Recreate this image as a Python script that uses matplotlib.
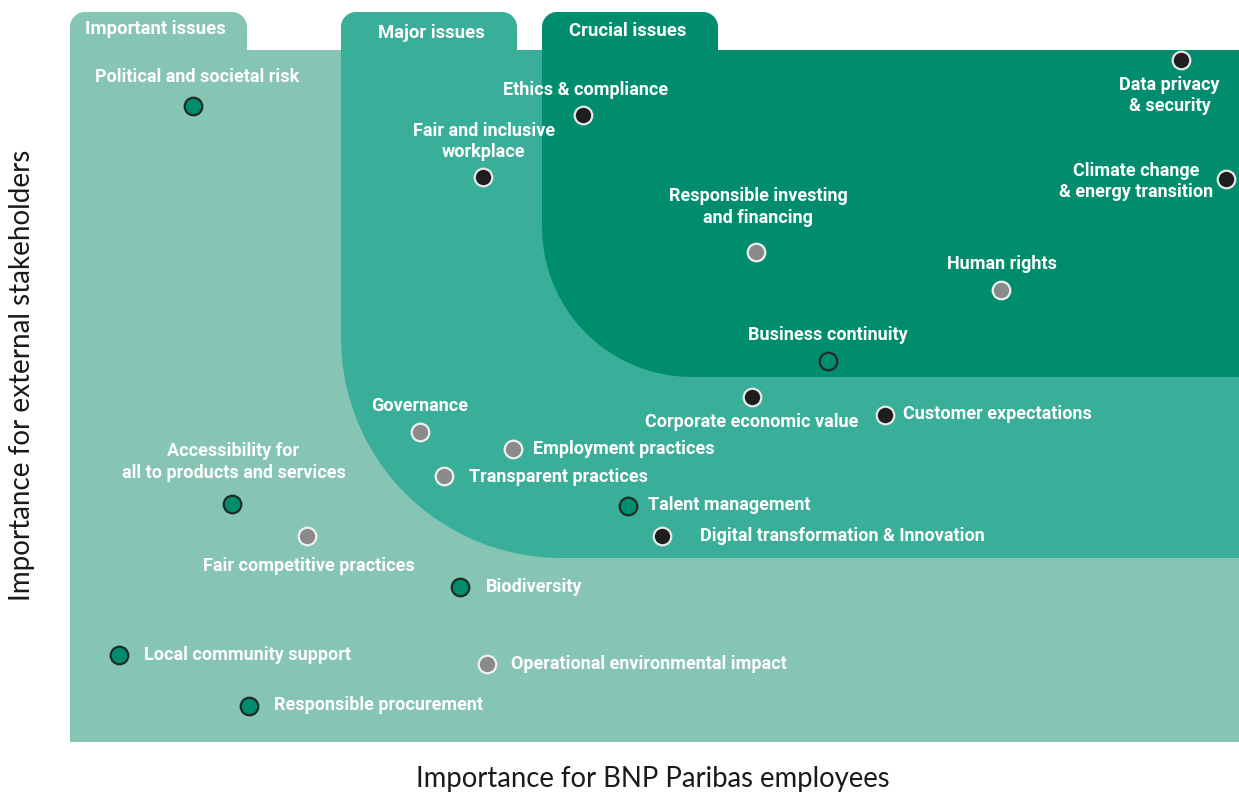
import numpy as np
import matplotlib
matplotlib.use("Agg")
import matplotlib.pyplot as plt
from matplotlib.path import Path
from matplotlib.patches import PathPatch
from matplotlib import font_manager as fm

# ---------------- data ----------------
issues = [
    "Political and societal risk", "Ethics & compliance", "Fair and inclusive\nworkplace",
    "Data privacy\n& security", "Climate change\n& energy transition",
    "Responsible investing\nand financing", "Human rights", "Business continuity",
    "Corporate economic value", "Customer expectations", "Governance",
    "Employment practices", "Transparent practices", "Talent management",
    "Digital transformation & Innovation",
    "Accessibility for\nall to products and services", "Fair competitive practices",
    "Biodiversity", "Local community support", "Operational environmental impact",
    "Responsible procurement",
]
employees = [1.05, 4.39, 3.53, 9.50, 9.89, 5.87, 7.96, 6.48, 5.83, 6.97, 2.99,
             3.79, 3.20, 4.77, 5.06, 1.39, 2.03, 3.34, 0.42, 3.57, 1.53]
stakeholders = [9.19, 9.06, 8.16, 9.86, 8.14, 7.08, 6.53, 5.51, 4.99, 4.73, 4.48,
                4.23, 3.84, 3.41, 2.98, 3.44, 2.98, 2.24, 1.26, 1.13, 0.52]
kind = ["green", "black", "black", "black", "black", "gray", "gray", "green",
        "black", "black", "gray", "gray", "gray", "green", "black", "green",
        "gray", "green", "green", "gray", "green"]
zone_names = ["Important issues", "Major issues", "Crucial issues"]
x_label = "Importance for BNP Paribas employees"
y_label = "Importance for external stakeholders"

# ---------------- styles ----------------
# label offsets in pixels (dx, dy with y up) and alignment
label_style = [
    (4, 29, "center"), (2, 25, "center"), (1, 36, "center"),
    (-11, -36, "center"), (-90, -3, "center"),
    (2, 45, "center"), (1, 26, "center"), (0, 26, "center"),
    (0, -25, "center"), (18, 1, "left"), (0, 26, "center"),
    (20, 0, "left"), (25, -1, "left"), (20, 1, "left"),
    (38, 0, "left"),
    (1, 42, "center"), (2, -30, "center"),
    (25, 0, "left"), (25, 0, "left"), (24, 0, "left"),
    (25, 1, "left"),
]
LIGHT = "#86C4B4"
MID = "#39AE98"
DARK = "#008D6E"
marker_face = {"green": "#008D6E", "black": "#1E1E1E", "gray": "#8A8A8A"}
marker_edge = {"green": "#1E2B27", "black": "#E8E8E8", "gray": "#F0F0F0"}

avail = {f.name for f in fm.fontManager.ttflist}
lab_font = [f for f in ["Liberation Sans Narrow", "Roboto", "DejaVu Sans"] if f in avail]
ax_font = [f for f in ["Lato", "Open Sans", "DejaVu Sans"] if f in avail]

W, H = 1239, 796
fig = plt.figure(figsize=(W / 100, H / 100), dpi=100)

# background decoration axes in pixel coordinates
bg = fig.add_axes([0, 0, 1, 1])
bg.set_xlim(0, W)
bg.set_ylim(H, 0)
bg.axis("off")


def rounded_poly(pts_radii):
    """pts_radii: list of (x, y, r) corners in order; returns Path."""
    verts = []
    n = len(pts_radii)
    for i in range(n):
        x, y, r = pts_radii[i]
        if r == 0:
            verts.append((x, y))
            continue
        px, py, _ = pts_radii[i - 1]
        nx, ny, _ = pts_radii[(i + 1) % n]
        v1 = np.array([px - x, py - y], float); v1 /= np.linalg.norm(v1)
        v2 = np.array([nx - x, ny - y], float); v2 /= np.linalg.norm(v2)
        c = np.array([x, y]) + (v1 + v2) * r
        a1 = np.arctan2(*(np.array([x, y]) + v1 * r - c)[::-1])
        a2 = np.arctan2(*(np.array([x, y]) + v2 * r - c)[::-1])
        d = (a2 - a1 + np.pi) % (2 * np.pi) - np.pi
        for t in np.linspace(0, 1, 24):
            a = a1 + d * t
            verts.append((c[0] + r * np.cos(a), c[1] + r * np.sin(a)))
    verts.append(verts[0])
    return Path(verts)


TR = 15
light_shape = [(70, 742, 0), (70, 12, TR), (247, 12, TR), (247, 50, 0),
               (W, 50, 0), (W, 742, 0)]
mid_shape = [(341, 558, 220), (341, 12, TR), (517, 12, TR), (517, 50, 0),
             (W, 50, 0), (W, 558, 0)]
dark_shape = [(542, 377, 150), (542, 12, TR), (718, 12, TR), (718, 50, 0),
              (W, 50, 0), (W, 377, 0)]
for shp, col in [(light_shape, LIGHT), (mid_shape, MID), (dark_shape, DARK)]:
    bg.add_patch(PathPatch(rounded_poly(shp), facecolor=col, edgecolor="none"))

for name, (tx, ty) in zip(zone_names, [(155, 29), (431, 33), (628, 31)]):
    bg.text(tx, ty, name, color="white", fontsize=13.3, fontweight="bold",
            family=lab_font, ha="center", va="center")

bg.text(653, 779, x_label, fontsize=19.8, family=ax_font, color="#1a1a1a",
        ha="center", va="center")
bg.text(22, 375, y_label, fontsize=20, family=ax_font, color="#1a1a1a",
        ha="center", va="center", rotation=90)

# data axes
ax = fig.add_axes([70 / W, (H - 742) / H, (W - 70) / W, 692 / H])
ax.set_xlim(0, 10)
ax.set_ylim(0, 10)
ax.patch.set_alpha(0)
ax.axis("off")

for name, x, y, k, (dx, dy, ha) in zip(issues, employees, stakeholders, kind, label_style):
    ax.scatter([x], [y], s=160, facecolor=marker_face[k], edgecolor=marker_edge[k],
               linewidth=1.6, zorder=5, clip_on=False)
    ax.annotate(name, (x, y), xytext=(dx, dy), textcoords="offset pixels",
                ha=ha, va="center", multialignment="center", color="white",
                fontsize=13, fontweight="bold", family=lab_font, linespacing=1.25,
                zorder=6)

fig.savefig("out.png", dpi=100)
